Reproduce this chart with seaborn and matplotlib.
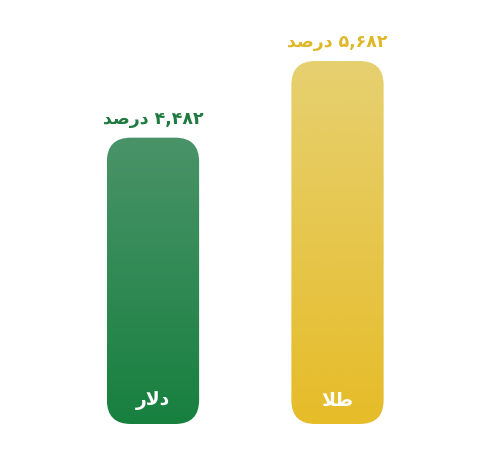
import numpy as np
import pandas as pd
import matplotlib
matplotlib.use("Agg")
import matplotlib.pyplot as plt
import seaborn as sns
from matplotlib.patches import FancyBboxPatch
from matplotlib.colors import LinearSegmentedColormap

# data (Persian labels written in visual order with presentation forms,
# since matplotlib does no Arabic shaping)
assets = ["\ufead\ufefb\ufea9", "\ufefc\ufec3"]      # دلار , طلا
values = [4482, 5682]
value_labels = ["\ufeaa\ufebb\ufead\ufea9 \u06f4,\u06f4\u06f8\u06f2",   # ۴,۴۸۲ درصد
                "\ufeaa\ufebb\ufead\ufea9 \u06f5,\u06f6\u06f8\u06f2"]   # ۵,۶۸۲ درصد

top_colors = ["#4a9369", "#e6d070"]
bottom_colors = ["#17803f", "#e6bc28"]
text_colors = ["#1e7a3f", "#dfb829"]

df = pd.DataFrame({"asset": assets, "value": values})

sns.set_style("white")
plt.rcParams["font.family"] = ["DejaVu Sans"]

fig = plt.figure(figsize=(4.9, 4.52), dpi=100)
ax = fig.add_axes([0, 27 / 452, 1, 425 / 452])

sns.barplot(data=df, x="asset", y="value", hue="asset", palette=top_colors,
            width=0.5, legend=False, ax=ax)

ax.set_xlim(-153 / 184.5, 1 + (490 - 337.5) / 184.5)
ax.set_ylim(0, 425 / 363 * 5682)
ax.axis("off")

bars = list(ax.patches)
for i, p in enumerate(bars):
    x0, y0 = p.get_x(), p.get_y()
    w, h = p.get_width(), p.get_height()
    p.set_visible(False)
    # rounded corners, radius given in pixels
    r = 24
    rx = r / 184.5
    ry = r * (5682 / 363)
    shape = FancyBboxPatch((x0 + rx, y0 + ry), w - 2 * rx, h - 2 * ry,
                           boxstyle=f"round,pad={rx},rounding_size={rx}",
                           mutation_aspect=ry / rx,
                           facecolor="none", edgecolor="none")
    ax.add_patch(shape)
    cmap = LinearSegmentedColormap.from_list("g", [bottom_colors[i], top_colors[i]])
    grad = np.linspace(0, 1, 256).reshape(-1, 1)
    im = ax.imshow(grad, cmap=cmap, origin="lower", aspect="auto",
                   extent=[x0, x0 + w, y0, y0 + h], zorder=2)
    im.set_clip_path(shape)

    ax.annotate(value_labels[i], (x0 + w / 2, h), xytext=(0, 14.5),
                textcoords="offset points", ha="center", va="center",
                fontsize=12.5, fontweight="bold", color=text_colors[i])
    ax.annotate(assets[i], (x0 + w / 2, 0), xytext=(0, 17.5),
                textcoords="offset points", ha="center", va="center",
                fontsize=13.5, fontweight="bold", color="white", zorder=3)

ax.set_aspect("auto")
fig.savefig("out.png", dpi=100)
